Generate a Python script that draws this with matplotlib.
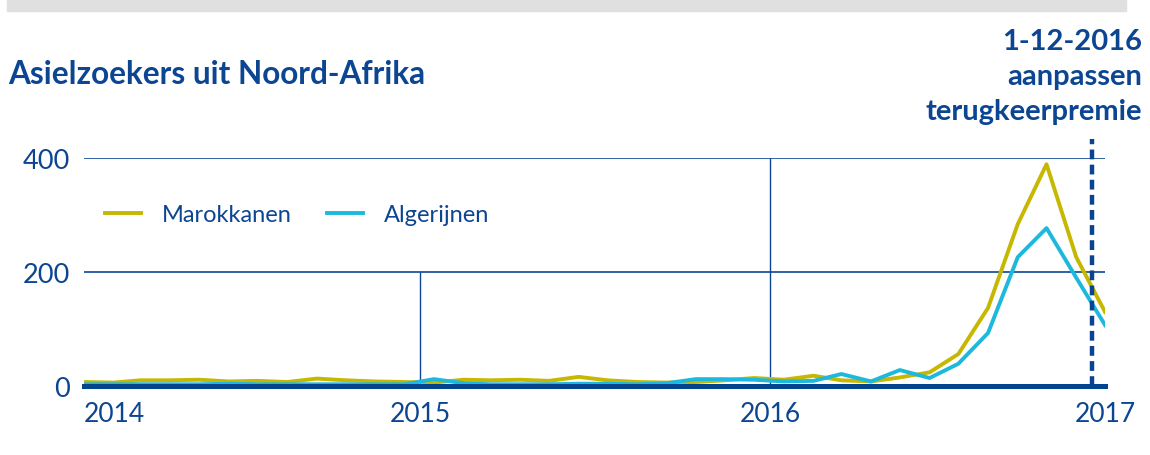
import matplotlib.pyplot as plt
import matplotlib.dates as mdates
from matplotlib.patches import Rectangle
import numpy as np

#======================================================================================================================

# monthly values, jan 2014 - dec 2016
months = np.arange('2014-01', '2017-01', dtype='datetime64[M]').astype('datetime64[D]') + np.timedelta64(14, 'D')

marokkanen = [7, 6, 10, 10, 11, 8, 9, 7, 13, 10, 8, 7,
              6, 11, 10, 11, 9, 16, 10, 7, 6, 7, 10, 14,
              11, 18, 10, 8, 15, 24, 56, 137, 284, 389, 226, 130]
algerijnen = [3, 3, 3, 3, 3, 4, 3, 3, 3, 3, 3, 3,
              12, 5, 3, 3, 3, 4, 4, 3, 5, 12, 12, 11,
              8, 9, 21, 8, 28, 14, 39, 93, 226, 277, 190, 107]

series_names = ["Marokkanen", "Algerijnen"]
year_labels = ["2014", "2015", "2016", "2017"]
y_ticks = [0, 200, 400]
event_date = np.datetime64('2016-12-01')
event_text = "1-12-2016\naanpassen\nterugkeerpremie"
title = "Asielzoekers uit Noord-Afrika"

#======================================================================================================================

NAVY = '#0c4592'
OLIVE = '#c6b800'
CYAN = '#1cb9dc'
FONT = 'Lato'

def main():
    fig = plt.figure(figsize=(11.5, 4.56), dpi=100)
    fig.patches.append(Rectangle((7 / 1150, 1 - 12 / 456), 1119 / 1150, 12 / 456,
                                 transform=fig.transFigure, color='#e0e0e0', zorder=0))

    ax = fig.add_axes([84 / 1150, 69 / 456, 1021 / 1150, 228 / 456])
    ax.set_xlim(months[0], months[-1])
    ax.set_ylim(0, 400)

    # grid
    for t in y_ticks[1:]:
        ax.axhline(t, color=NAVY, linewidth=1.2, zorder=1)
    ax.vlines(np.datetime64('2015-01-01'), 0, 200, color=NAVY, linewidth=1.0, zorder=1)
    ax.vlines(np.datetime64('2016-01-01'), 0, 400, color=NAVY, linewidth=1.0, zorder=1)

    ax.plot(months, marokkanen, color=OLIVE, linewidth=2.8, label=series_names[0], zorder=3)
    ax.plot(months, algerijnen, color=CYAN, linewidth=2.8, label=series_names[1], zorder=3)

    ax.plot([event_date, event_date], [0, 433], color='#0a4490', linewidth=3.2,
            dashes=(2.2, 1.2), clip_on=False, zorder=4)

    for s in ['top', 'right', 'left']:
        ax.spines[s].set_visible(False)
    ax.spines['bottom'].set_color('#02448e')
    ax.spines['bottom'].set_linewidth(3.6)
    ax.spines['bottom'].set_zorder(5)

    ax.set_yticks(y_ticks)
    ax.set_yticklabels([str(t) for t in y_ticks], fontsize=19.5, color=NAVY, family=FONT)
    ax.tick_params(axis='y', length=0, pad=10)
    ax.set_xticks([])

    # year labels
    trans = ax.get_xaxis_transform()
    xlo, xhi = ax.get_xlim()
    ax.text(xlo, -0.12, year_labels[0], transform=trans, ha='left', va='center',
            fontsize=19, color=NAVY, family=FONT)
    ax.text(mdates.date2num(np.datetime64('2015-01-01')), -0.12, year_labels[1], transform=trans,
            ha='center', va='center', fontsize=19, color=NAVY, family=FONT)
    ax.text(mdates.date2num(np.datetime64('2016-01-01')), -0.12, year_labels[2], transform=trans,
            ha='center', va='center', fontsize=19, color=NAVY, family=FONT)
    ax.text(xhi, -0.12, year_labels[3], transform=trans, ha='center', va='center',
            fontsize=19, color=NAVY, family=FONT)

    leg = ax.legend(loc='center left', bbox_to_anchor=(0.0, 0.75), ncol=2, frameon=False,
                    handlelength=1.5, handletextpad=0.9, columnspacing=1.5,
                    prop={'family': FONT, 'size': 17}, borderaxespad=0.5)
    for t in leg.get_texts():
        t.set_color(NAVY)

    fig.text(8 / 1150, 1 - 75 / 456, title, ha='left', va='center', fontsize=22.7,
             fontweight='bold', color=NAVY, family=FONT)
    fig.text(1142 / 1150, 1 - 77 / 456, event_text, ha='right', va='center', fontsize=21,
             fontweight='bold', color=NAVY, family=FONT, linespacing=1.45, multialignment='right')

    fig.savefig("out.png", dpi=100)

#======================================================================================================================

if __name__ == "__main__":
    main()
